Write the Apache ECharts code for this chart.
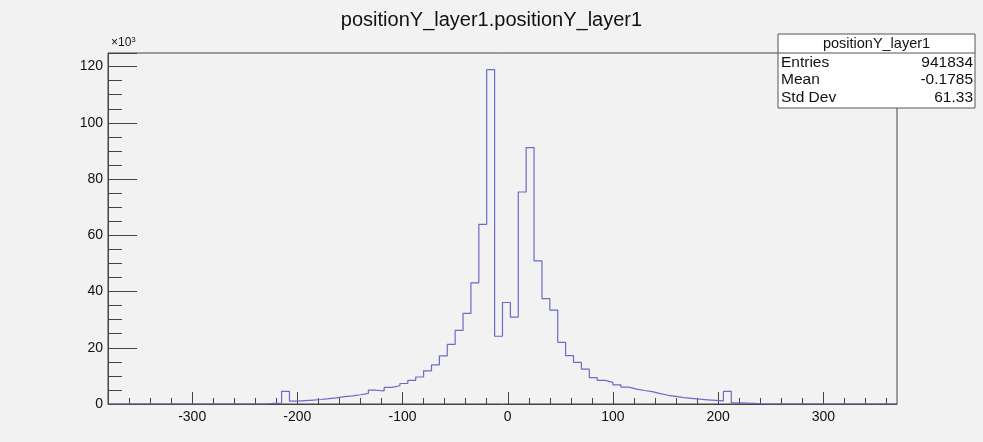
<!DOCTYPE html>
<html>
<head>
<meta charset="utf-8">
<script src="https://cdn.jsdelivr.net/npm/echarts@6/dist/echarts.min.js"></script>
<style>
  html, body { margin: 0; padding: 0; background: #f2f2f2; }
  #echar { width: 983px; height: 442px; }
</style>
</head>
<body>
<div id="echar"></div>
<script>
// histogram binning (100 bins)
var xMin = -380;
var xMax = 370;
var binWidth = 7.5;

// bin contents, in units of 10^3 entries
var counts = [
    0, 0, 0, 0, 0, 0, 0, 0, 0, 0,
    0, 0, 0, 0, 0, 0, 0, 0, 0, 0,
    0.2, 0.3, 4.5, 1.0, 1.2, 1.4, 1.6, 1.9, 2.2, 2.6,
    2.9, 3.3, 3.8, 4.9, 4.7, 5.9, 6.5, 7.3, 8.4, 9.6,
    11.8, 13.9, 17.1, 21.2, 26.2, 32.2, 43.1, 63.9, 118.9, 24.1,
    36.1, 30.9, 75.4, 91.2, 50.9, 37.5, 33.4, 21.9, 17.2, 14.8,
    12.4, 9.4, 8.4, 7.7, 6.8, 6.0, 5.3, 4.8, 4.4, 3.7,
    3.1, 2.7, 2.3, 2.0, 1.7, 1.5, 1.3, 1.1, 4.5, 0.4,
    0.3, 0.2, 0, 0, 0, 0, 0, 0, 0, 0,
    0, 0, 0, 0, 0, 0, 0, 0, 0, 0
];

var xMajorTicks = [-300, -200, -100, 0, 100, 200, 300];
var xMinorTicks = [];
for (var t = -360; t <= 360; t += 20) xMinorTicks.push(t);
var yTicks = [0, 20, 40, 60, 80, 100, 120];

var statsTitle = 'positionY_layer1';
var statsRows = [
    ['Entries', '941834'],
    ['Mean', '-0.1785'],
    ['Std Dev', '61.33']
];

// step outline: one point per bin low edge, plus the upper edge
var points = [];
for (var i = 0; i < counts.length; i++) {
    points.push([xMin + i * binWidth, counts[i]]);
}
points.push([xMax, counts[counts.length - 1]]);

var yMax = Math.max.apply(null, counts) * 1.05;

var font = 'Liberation Sans, Arial, sans-serif';
var axisColor = '#444';

var myChart = echarts.init(document.getElementById('echar'));

// stats box
var boxX = 778, boxY = 34, boxW = 197, boxH = 74;
var statsGraphic = [
    { type: 'rect', shape: { x: boxX, y: boxY, width: boxW, height: boxH },
      style: { fill: '#ffffff', stroke: '#555', lineWidth: 1 } },
    { type: 'line', shape: { x1: boxX, y1: boxY + 19, x2: boxX + boxW, y2: boxY + 19 },
      style: { stroke: '#555', lineWidth: 1 } },
    { type: 'text', x: boxX + boxW / 2, y: boxY + 10,
      style: { text: statsTitle, font: '14.5px ' + font, fill: '#111', align: 'center', verticalAlign: 'middle' } }
];
statsRows.forEach(function (row, k) {
    var yy = boxY + 28.5 + k * 17.5;
    statsGraphic.push({ type: 'text', x: boxX + 3, y: yy,
        style: { text: row[0], font: '15.5px ' + font, fill: '#111', align: 'left', verticalAlign: 'middle' } });
    statsGraphic.push({ type: 'text', x: boxX + boxW - 2, y: yy,
        style: { text: row[1], font: '15.5px ' + font, fill: '#111', align: 'right', verticalAlign: 'middle' } });
});
statsGraphic.push({ type: 'text', x: 111, y: 43,
    style: { text: '×10{s|3}', font: '12px ' + font, fill: '#111', verticalAlign: 'middle',
        rich: { s: { fontSize: 8, verticalAlign: 'top', padding: [0, 0, 6, 0] } } } });

option = {
    backgroundColor: '#f2f2f2',
    animation: false,
    title: {
        text: 'positionY_layer1.positionY_layer1',
        left: 'center',
        top: 5,
        textStyle: { fontFamily: font, fontSize: 20, fontWeight: 'normal', color: '#111' }
    },
    grid: {
        left: 108, right: 86, top: 53, bottom: 38,
        show: true, borderColor: axisColor, borderWidth: 1, backgroundColor: 'transparent'
    },
    xAxis: [{
        type: 'value',
        min: xMin,
        max: xMax,
        axisLine: { show: true, onZero: false, lineStyle: { color: axisColor } },
        axisTick: { show: true, inside: true, length: 12, customValues: xMajorTicks, lineStyle: { color: axisColor } },
        axisLabel: { customValues: xMajorTicks, fontFamily: font, fontSize: 14, color: '#111', margin: 6 },
        splitLine: { show: false }
    }, {
        type: 'value',
        min: xMin,
        max: xMax,
        position: 'bottom',
        axisLine: { show: false, onZero: false },
        axisTick: { show: true, inside: true, length: 6, customValues: xMinorTicks, lineStyle: { color: axisColor } },
        axisLabel: { show: false },
        splitLine: { show: false }
    }],
    yAxis: {
        type: 'value',
        min: 0,
        max: yMax,
        interval: 20,
        axisLine: { show: true, onZero: false, lineStyle: { color: axisColor } },
        axisTick: { show: true, inside: true, length: 29, lineStyle: { color: axisColor } },
        minorTick: { show: true, splitNumber: 4, length: 14, lineStyle: { color: axisColor } },
        axisLabel: { fontFamily: font, fontSize: 14, color: '#111', margin: 5,
            formatter: function (v) { return yTicks.indexOf(Math.round(v)) >= 0 ? String(Math.round(v)) : ''; } },
        splitLine: { show: false }
    },
    graphic: statsGraphic,
    series: [{
        type: 'line',
        xAxisIndex: 0,
        data: points,
        step: 'end',
        symbol: 'none',
        lineStyle: { color: '#6b6bc8', width: 1.2 }
    }]
};

myChart.setOption(option);
</script>
</body>
</html>
